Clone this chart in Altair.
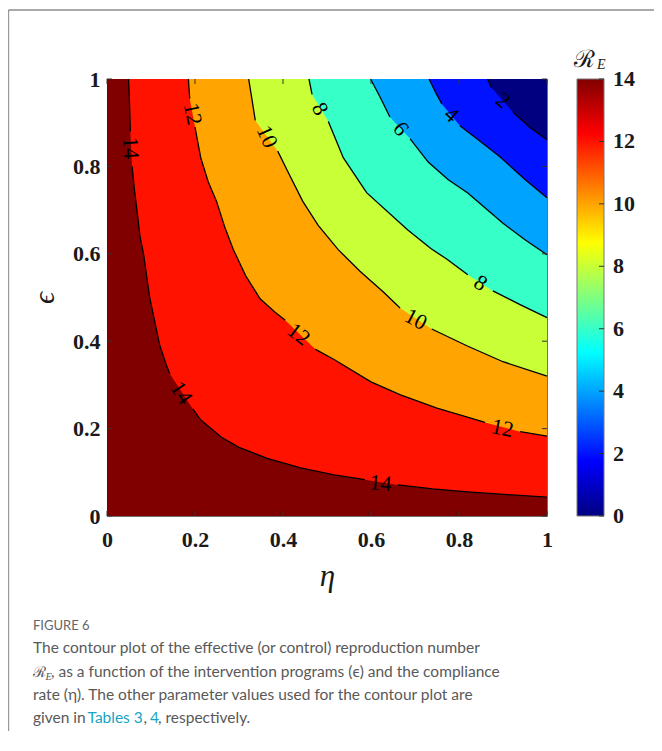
import altair as alt
import pandas as pd

W, H = 440, 437

x_ticks = [0, 0.2, 0.4, 0.6, 0.8, 1]
y_ticks = [0, 0.2, 0.4, 0.6, 0.8, 1]
cbar_ticks = [0, 2, 4, 6, 8, 10, 12, 14]

jet_pos = [0, 1.75, 5.25, 8.75, 12.25, 14]
jet_colors = ["#000080", "#0000ff", "#00ffff", "#ffff00", "#ff0000", "#800000"]

levels = [14, 12, 10, 8, 6, 4, 2]

# contour lines: (eta, epsilon), split where labels interrupt them
contour_14 = [
    [(0.049, 1.0), (0.051, 0.95), (0.053, 0.88)],
    [(0.057, 0.80), (0.062, 0.75), (0.068, 0.70), (0.075, 0.64), (0.083, 0.60),
     (0.097, 0.50), (0.12, 0.39), (0.135, 0.345), (0.143, 0.325)],
    [(0.195, 0.245), (0.212, 0.221), (0.26, 0.18), (0.30, 0.157), (0.364, 0.132),
     (0.44, 0.11), (0.516, 0.094), (0.586, 0.083)],
    [(0.661, 0.071), (0.74, 0.062), (0.82, 0.055), (0.91, 0.049), (1.0, 0.043)],
]
contour_12 = [
    [(0.185, 1.0), (0.188, 0.955)],
    [(0.20, 0.89), (0.213, 0.82), (0.23, 0.765), (0.249, 0.72), (0.268, 0.66),
     (0.287, 0.61), (0.315, 0.55), (0.348, 0.497), (0.38, 0.468), (0.405, 0.448)],
    [(0.473, 0.382), (0.516, 0.358), (0.60, 0.307), (0.667, 0.277), (0.75, 0.247),
     (0.819, 0.226), (0.859, 0.214)],
    [(0.939, 0.193), (1.0, 0.183)],
]
contour_10 = [
    [(0.322, 1.0), (0.33, 0.95), (0.337, 0.905)],
    [(0.388, 0.835), (0.41, 0.79), (0.445, 0.72), (0.48, 0.665), (0.525, 0.61),
     (0.575, 0.56), (0.63, 0.511), (0.666, 0.476)],
    [(0.738, 0.428), (0.819, 0.389), (0.90, 0.353), (1.0, 0.32)],
]
contour_8 = [
    [(0.459, 1.0), (0.466, 0.965)],
    [(0.503, 0.903), (0.537, 0.82), (0.59, 0.74), (0.683, 0.655), (0.736, 0.612),
     (0.772, 0.588), (0.82, 0.552)],
    [(0.877, 0.515), (0.94, 0.483), (1.0, 0.454)],
]
contour_6 = [
    [(0.599, 1.0), (0.62, 0.96), (0.643, 0.913)],
    [(0.689, 0.863), (0.73, 0.81), (0.775, 0.77), (0.82, 0.739), (0.90, 0.67),
     (0.95, 0.632), (1.0, 0.598)],
]
contour_4 = [
    [(0.732, 1.0), (0.748, 0.967), (0.761, 0.943)],
    [(0.802, 0.893), (0.845, 0.86), (0.893, 0.822), (0.95, 0.77), (1.0, 0.728)],
]
contour_2 = [
    [(0.865, 1.0), (0.874, 0.98)],
    [(0.923, 0.924), (0.96, 0.89), (1.0, 0.861)],
]
contours = {14: contour_14, 12: contour_12, 10: contour_10, 8: contour_8,
            6: contour_6, 4: contour_4, 2: contour_2}

label_level = [14, 14, 14, 12, 12, 12, 10, 10, 8, 8, 6, 4, 2]
label_eta = [0.054, 0.169, 0.622, 0.195, 0.436, 0.899, 0.364, 0.702, 0.484, 0.849, 0.668, 0.783, 0.90]
label_eps = [0.842, 0.282, 0.075, 0.920, 0.416, 0.201, 0.868, 0.450, 0.932, 0.533, 0.886, 0.918, 0.951]
label_angle = [86, 56, 5, 79, 38, 12, 66, 28, 62, 32, 52, 42, 40]

caption_head = "FIGURE 6"
caption_l1 = "The contour plot of the effective (or control) reproduction number"
caption_l2 = ", as a function of the intervention programs (\u03f5) and the compliance"
caption_l3 = "rate (\u03b7). The other parameter values used for the contour plot are"
caption_l4 = ["given in ", "Tables 3", ",", "4", ", respectively."]

# ---------------------------------------------------------------- tables
area_rows, line_rows = [], []
for lev in levels:
    for s, seg in enumerate(contours[lev]):
        for i, (e, p) in enumerate(seg):
            line_rows.append({"seg": f"{lev}-{s}", "i": i, "eta": e, "eps": p})
            area_rows.append({"level": lev, "band": lev - 2, "eta": e, "eps": p})
area_df = pd.DataFrame(area_rows)
line_df = pd.DataFrame(line_rows)
label_df = pd.DataFrame({"lab": [str(v) for v in label_level], "eta": label_eta,
                         "eps": label_eps, "ang": label_angle})

SERIF = "Liberation Serif"
INK = "#1a1a1a"

xs = alt.Scale(domain=[0, 1], nice=False, zero=False)
ys = alt.Scale(domain=[0, 1], nice=False, zero=False)
cscale = alt.Scale(domain=jet_pos, range=jet_colors, interpolate="rgb")

x_axis = alt.Axis(values=x_ticks, format="~g", title="\u03b7", ticks=False, domain=False,
                  grid=False, labelFont=SERIF, labelFontWeight="bold", labelFontSize=22,
                  labelColor=INK, labelPadding=13, labelFlush=False, labelOverlap=False,
                  titleFont=SERIF, titleFontStyle="italic", titleFontWeight="normal",
                  titleFontSize=31, titleColor=INK, titleY=69, titleBaseline="alphabetic")
y_axis = alt.Axis(values=y_ticks, format="~g", title="\u03f5", ticks=False, domain=False,
                  grid=False, labelFont=SERIF, labelFontWeight="bold", labelFontSize=22,
                  labelColor=INK, labelPadding=7, labelFlush=False, labelOverlap=False,
                  titleFont=SERIF, titleFontStyle="italic", titleFontWeight="normal",
                  titleFontSize=30, titleColor=INK, titleX=-54, titleY=H / 2,
                  titleBaseline="alphabetic")


def X(f):
    return alt.X(f, scale=xs, axis=x_axis)


def Y(f):
    return alt.Y(f, scale=ys, axis=y_axis)


bg = alt.Chart(pd.DataFrame({"x0": [0], "x1": [1], "y0": [0], "y1": [1], "band": [14]})).mark_rect().encode(
    x=X("x0:Q"), x2="x1:Q", y=Y("y0:Q"), y2="y1:Q",
    color=alt.Color("band:Q", scale=cscale, legend=None))

areas = []
for lev in levels:
    areas.append(
        alt.Chart(area_df[area_df.level == lev]).mark_area(orient="vertical").encode(
            x=X("eta:Q"), y=Y("eps:Q"), y2=alt.datum(1),
            color=alt.Color("band:Q", scale=cscale, legend=None)))

lines = alt.Chart(line_df).mark_line(color="black", strokeWidth=1.3).encode(
    x=X("eta:Q"), y=Y("eps:Q"), detail="seg:N", order="i:Q")

labels = alt.Chart(label_df).mark_text(font=SERIF, fontSize=22, color="black",
                                       align="center", baseline="middle").encode(
    x=X("eta:Q"), y=Y("eps:Q"), text="lab:N", angle=alt.Angle("ang:Q", scale=None))

xt = pd.DataFrame({"t": x_ticks})
yt = pd.DataFrame({"t": y_ticks})
TK = "#333333"
tick_layers = [
    alt.Chart(xt).mark_rule(color=TK).encode(x=X("t:Q"), y=alt.value(H), y2=alt.value(H - 5)),
    alt.Chart(xt).mark_rule(color=TK).encode(x=X("t:Q"), y=alt.value(0), y2=alt.value(5)),
    alt.Chart(yt).mark_rule(color=TK).encode(y=Y("t:Q"), x=alt.value(0), x2=alt.value(5)),
    alt.Chart(yt).mark_rule(color=TK).encode(y=Y("t:Q"), x=alt.value(W), x2=alt.value(W - 5)),
]

main = alt.layer(bg, *areas, lines, labels, *tick_layers)

# ---------------------------------------------------------------- colour bar
CB0, CB1 = 470, 497
cbs = alt.Scale(domain=[0, 14], nice=False, zero=False)
grad = alt.LinearGradient(
    gradient="linear", x1=0, y1=1, x2=0, y2=0,
    stops=[alt.GradientStop(offset=p / 14, color=c) for p, c in zip(jet_pos, jet_colors)])
cb_rect = alt.Chart(pd.DataFrame({"lo": [0], "hi": [14]})).mark_rect(
    fill=grad, stroke="#777777", strokeWidth=1).encode(
    x=alt.value(CB0), x2=alt.value(CB1), y=alt.Y("lo:Q", scale=cbs, axis=None), y2="hi:Q")
cbt = pd.DataFrame({"v": cbar_ticks, "lab": [str(v) for v in cbar_ticks]})
cb_ticks = alt.Chart(cbt).mark_rule(color=TK).encode(
    x=alt.value(CB1), x2=alt.value(CB1 - 5), y=alt.Y("v:Q", scale=cbs, axis=None))
cb_labels = alt.Chart(cbt).mark_text(font=SERIF, fontWeight="bold", fontSize=22, color=INK,
                                     align="left", baseline="middle").encode(
    x=alt.value(CB1 + 9), y=alt.Y("v:Q", scale=cbs, axis=None), text="lab:N")
cbar = alt.layer(cb_rect, cb_ticks, cb_labels)

# ---------------------------------------------------------------- decorations
one = alt.Data(values=[{"k": 1}])


def txt(s, x, y, size, color, font="Lato", **kw):
    return alt.Chart(one).mark_text(font=font, fontSize=size, color=color, align="left",
                                    baseline="alphabetic", **kw).encode(
        x=alt.value(x), y=alt.value(y), text=alt.value(s))


OX, OY = 107, 79  # page position of the plot origin
GRAY = "#595959"
TEAL = "#1aa3c4"
CF = 15.5
deco = [
    txt("\u211b", 574 - OX, 66.5 - OY, 24, INK, font="DejaVu Serif"),
    txt("E", 597 - OX, 69 - OY, 14, INK, font=SERIF, fontStyle="italic"),
    txt(caption_head, 33 - OX, 630 - OY, 13, "#666666"),
    txt(caption_l1, 33 - OX, 653.3 - OY, CF, GRAY),
    txt("\u211b", 33 - OX, 676.7 - OY, 15, GRAY, font="DejaVu Serif"),
    txt("E", 45.5 - OX, 680 - OY, 10.5, GRAY, font=SERIF, fontStyle="italic"),
    txt(caption_l2, 51 - OX, 676.7 - OY, CF, GRAY),
    txt(caption_l3, 33 - OX, 700 - OY, CF, GRAY),
    txt(caption_l4[0], 33 - OX, 723.3 - OY, CF, GRAY),
    txt(caption_l4[1], 87.5 - OX, 723.3 - OY, CF, TEAL),
    txt(caption_l4[2], 143.5 - OX, 723.3 - OY, CF, GRAY),
    txt(caption_l4[3], 150 - OX, 723.3 - OY, CF, TEAL),
    txt(caption_l4[4], 158 - OX, 723.3 - OY, CF, GRAY),
    alt.Chart(one).mark_rule(color="#999999", strokeWidth=1.2).encode(
        x=alt.value(-98.4), x2=alt.value(-98.4), y=alt.value(10 - OY), y2=alt.value(H + 215)),
    alt.Chart(one).mark_rule(color="#555555", strokeWidth=1.2).encode(
        x=alt.value(-98.4), x2=alt.value(W + 107), y=alt.value(10 - OY), y2=alt.value(10 - OY)),
]

chart = alt.layer(main, cbar, *deco).resolve_scale(y="independent").properties(
    width=W, height=H,
    autosize=alt.AutoSizeParams(type="none"),
    padding={"left": 99, "top": 71, "right": 107, "bottom": 215},
).configure_view(stroke="#707070", strokeWidth=1)

chart.save("out.html", embed_options={"renderer": "svg", "actions": False})
